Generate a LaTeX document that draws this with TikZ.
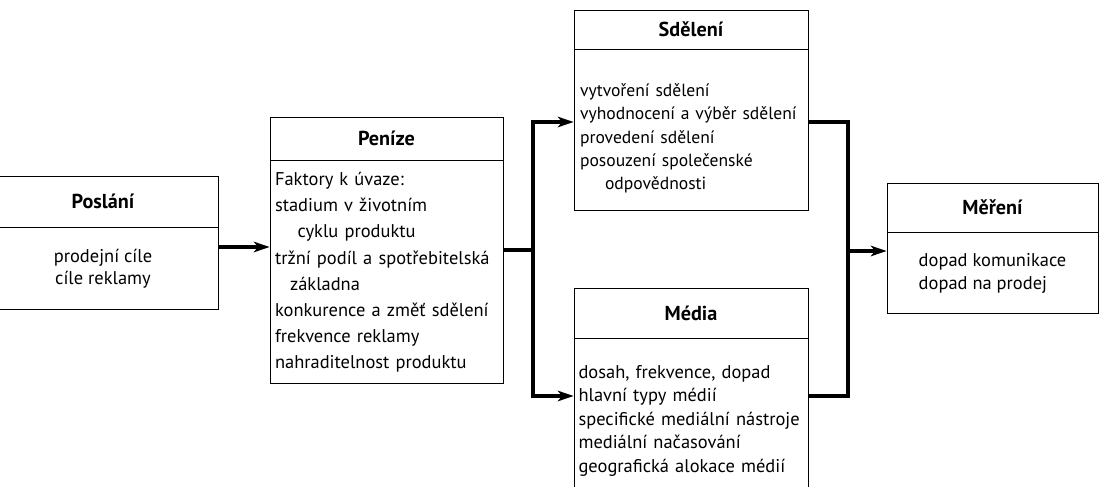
\documentclass[tikz,border=0pt]{standalone}
\usepackage{fontspec}
\setmainfont{PT Sans}
\usetikzlibrary{arrows.meta,positioning}

\begin{document}
\begin{tikzpicture}[
  x=0.02cm, y=-0.02cm,
  >={Stealth[length=9pt, width=6pt, inset=2.5pt]},
  head/.style={draw, line width=0.5pt, inner sep=0pt, font=\fontsize{11.5}{13}\selectfont\bfseries},
  body/.style={draw, line width=0.5pt, inner xsep=5pt, inner ysep=0pt, align=left},
  link/.style={line width=1.8pt, line join=miter},
  arr/.style={->, line width=1.8pt},
]
\useasboundingbox (0,0) rectangle (1100,487);

%% boxes
% Poslani (left edge runs off the page)
\node[head, minimum width=4.6cm, minimum height=1.02cm] (poslani) at (103,201.5) {Poslání};
\node[body, align=center, minimum width=4.6cm, minimum height=1.64cm,
      font=\fontsize{10.5}{12.6}\selectfont, below=0pt of poslani] (poslaniBody)
    {prodejní cíle\\cíle reklamy};

% Penize
\node[head, minimum width=4.66cm, minimum height=0.86cm] (penize) at (386.5,138.5) {Peníze};
\node[body, text width=4.46cm, minimum height=4.46cm, inner xsep=0.1cm,
      font=\fontsize{10.5}{14.9}\selectfont, below=0pt of penize] (penizeBody)
    {Faktory k úvaze:\\
     stadium v životním\\
     \hspace*{0.45cm}cyklu produktu\\
     tržní podíl a spotřebitelská\\
     \hspace*{0.3cm}základna\\
     konkurence a změť sdělení\\
     frekvence reklamy\\
     nahraditelnost produktu};

% Sdeleni
\node[head, minimum width=4.68cm, minimum height=0.78cm] (sdeleni) at (691,29.5) {Sdělení};
\node[body, text width=4.44cm, minimum height=3.22cm, inner xsep=0.12cm,
      font=\fontsize{10}{13.3}\selectfont, below=0pt of sdeleni] (sdeleniBody)
    {\rule{0pt}{0.58cm}vytvoření sdělení\\
     vyhodnocení a výběr sdělení\\
     provedení sdělení\\
     posouzení společenské\\
     \hspace*{0.5cm}odpovědnosti};

% Media (bottom edge runs off the page)
\node[head, minimum width=4.68cm, minimum height=1.0cm] (media) at (691,313) {Média};
\node[body, text width=4.5cm, minimum height=3.28cm, inner xsep=0.09cm,
      font=\fontsize{10.5}{13.4}\selectfont, below=0pt of media] (mediaBody)
    {dosah, frekvence, dopad\\
     hlavní typy médií\\
     specifické mediální nástroje\\
     mediální načasování\\
     geografická alokace médií};

% Mereni
\node[head, minimum width=4.22cm, minimum height=0.98cm] (mereni) at (992.5,207.5) {Měření};
\node[body, minimum width=4.22cm, minimum height=1.62cm,
      font=\fontsize{10.5}{13.4}\selectfont, below=0pt of mereni] (mereniBody)
    {dopad komunikace\\dopad na prodej};

%% connectors
\coordinate (rowP) at (0,247);
\coordinate (rowS) at (0,122);
\coordinate (rowM) at (0,396);
\coordinate (split) at (533,250);
\coordinate (join) at (848,251);

\draw[arr]  (poslaniBody.east |- rowP) -- (penizeBody.west |- rowP);
\draw[link] (penizeBody.east |- split) -- (split);
\draw[arr]  (split) |- (sdeleniBody.west |- rowS);
\draw[arr]  (split) |- (mediaBody.west |- rowM);
\draw[link] (sdeleniBody.east |- rowS) -| (join);
\draw[link] (mediaBody.east |- rowM) -| (join);
\draw[arr]  (join) -- (mereniBody.west |- join);

\end{tikzpicture}
\end{document}
